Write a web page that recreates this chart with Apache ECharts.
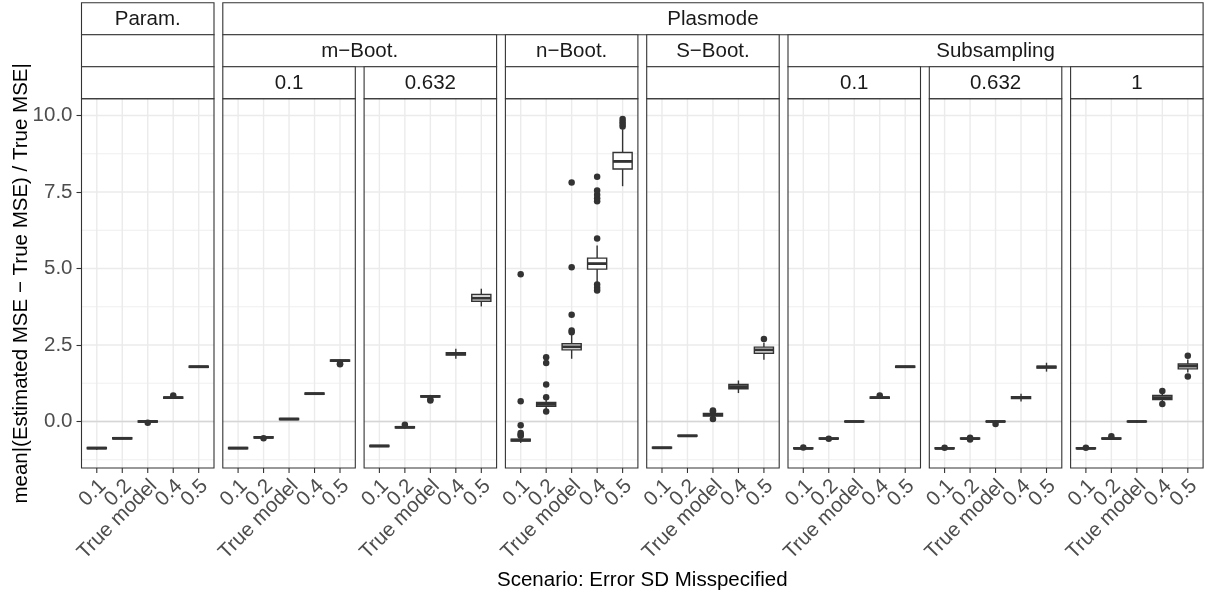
<!DOCTYPE html>
<html>
<head>
<meta charset="utf-8">
<script src="https://cdn.jsdelivr.net/npm/echarts@6/dist/echarts.min.js"></script>
<style>
    html, body { margin: 0; padding: 0; background: #fff; }
    #chart { width: 1208px; height: 599px; }
</style>
</head>
<body>
<div id="chart"></div>
<script>
// categories on the x axis of every panel
const categories = ['0.1', '0.2', 'True model', '0.4', '0.5'];
const xTicks = [1, 2, 3, 4, 5];
const yTicks = [0, 2.5, 5, 7.5, 10];
const yMinorTicks = [-1.25, 1.25, 3.75, 6.25, 8.75];

// facet strips: [first panel, last panel, label]
const stripRow1 = [[0, 0, 'Param.'], [1, 7, 'Plasmode']];
const stripRow2 = [[0, 0, ''], [1, 2, 'm−Boot.'], [3, 3, 'n−Boot.'], [4, 4, 'S−Boot.'], [5, 7, 'Subsampling']];
const stripRow3 = ['', '0.1', '0.632', '', '', '0.1', '0.632', '1'];

// box stats per panel: [min whisker, Q1, median, Q3, max whisker] for each category
const paramBox = [[-0.92, -0.89, -0.87, -0.85, -0.83], [-0.58, -0.57, -0.55, -0.53, -0.52], [-0.03, -0.02, 0.00, 0.02, 0.03], [0.74, 0.76, 0.78, 0.80, 0.82], [1.76, 1.77, 1.79, 1.81, 1.82]];
const mBoot01Box = [[-0.90, -0.89, -0.87, -0.85, -0.84], [-0.55, -0.54, -0.52, -0.50, -0.49], [0.05, 0.06, 0.08, 0.10, 0.11], [0.88, 0.89, 0.91, 0.93, 0.94], [1.95, 1.97, 1.99, 2.01, 2.03]];
const mBoot0632Box = [[-0.83, -0.82, -0.80, -0.78, -0.77], [-0.23, -0.21, -0.19, -0.17, -0.15], [0.77, 0.80, 0.82, 0.84, 0.87], [2.05, 2.17, 2.21, 2.25, 2.38], [3.76, 3.93, 4.03, 4.15, 4.34]];
const nBootBox = [[-0.70, -0.64, -0.61, -0.58, -0.52], [0.38, 0.50, 0.56, 0.62, 0.72], [2.05, 2.34, 2.44, 2.54, 2.85], [4.50, 4.98, 5.16, 5.34, 5.75], [7.69, 8.25, 8.50, 8.79, 9.55]];
const sBootBox = [[-0.88, -0.87, -0.86, -0.84, -0.83], [-0.49, -0.48, -0.47, -0.45, -0.44], [0.12, 0.18, 0.22, 0.26, 0.32], [0.93, 1.07, 1.14, 1.21, 1.34], [2.02, 2.23, 2.34, 2.43, 2.57]];
const sub01Box = [[-0.90, -0.89, -0.88, -0.86, -0.85], [-0.58, -0.57, -0.56, -0.54, -0.53], [-0.02, -0.01, 0.00, 0.01, 0.02], [0.75, 0.76, 0.78, 0.80, 0.82], [1.76, 1.77, 1.79, 1.81, 1.82]];
const sub0632Box = [[-0.90, -0.89, -0.88, -0.86, -0.85], [-0.59, -0.57, -0.56, -0.54, -0.52], [-0.04, -0.01, 0.00, 0.01, 0.03], [0.65, 0.75, 0.78, 0.81, 0.91], [1.63, 1.75, 1.78, 1.81, 1.92]];
const sub1Box = [[-0.90, -0.89, -0.88, -0.86, -0.85], [-0.58, -0.57, -0.56, -0.54, -0.53], [-0.04, -0.01, 0.00, 0.01, 0.04], [0.66, 0.72, 0.78, 0.85, 0.92], [1.60, 1.72, 1.81, 1.88, 2.03]];

// outliers per panel: [category position, value]
const paramOut = [[3, -0.04], [4, 0.85]];
const mBoot01Out = [[2, -0.55], [5, 1.89], [5, 1.87]];
const mBoot0632Out = [[2, -0.11], [3, 0.69], [3, 0.72]];
const nBootOut = [[1, -0.47], [1, -0.43], [1, -0.38], [1, -0.12], [1, 0.66], [1, 4.81],
    [2, 0.33], [2, 0.79], [2, 1.21], [2, 1.91], [2, 2.10],
    [3, 2.92], [3, 2.97], [3, 3.49], [3, 5.04], [3, 7.81],
    [4, 4.28], [4, 4.37], [4, 4.48], [4, 5.98], [4, 7.20], [4, 7.30], [4, 7.41], [4, 7.55], [4, 8.00],
    [5, 9.64], [5, 9.72], [5, 9.80], [5, 9.89]];
const sBootOut = [[3, 0.08], [3, 0.33], [3, 0.36], [5, 2.70]];
const sub01Out = [[1, -0.85], [2, -0.56], [4, 0.85]];
const sub0632Out = [[1, -0.86], [2, -0.53], [2, -0.59], [3, -0.08]];
const sub1Out = [[1, -0.86], [2, -0.48], [4, 1.00], [4, 0.57], [5, 2.15], [5, 1.47]];

const panelBoxes = [paramBox, mBoot01Box, mBoot0632Box, nBootBox, sBootBox, sub01Box, sub0632Box, sub1Box];
const panelOutliers = [paramOut, mBoot01Out, mBoot0632Out, nBootOut, sBootOut, sub01Out, sub0632Out, sub1Out];

// layout
const FONT = "'Liberation Sans', Arial, sans-serif";
const panelLeft0 = 81.5, panelStep = 141.3, panelWidth = 132.5;
const plotTop = 98.7, plotHeight = 369.3;
const stripTop = 2.7, stripH = 32;
const INK = '#333333';

function panelLeft(i) {
    return panelLeft0 + i * panelStep;
}

function renderBox(params, api) {
    const x = api.value(0);
    const lo = api.coord([x, api.value(1)]);
    const q1 = api.coord([x, api.value(2)]);
    const med = api.coord([x, api.value(3)]);
    const q3 = api.coord([x, api.value(4)]);
    const hi = api.coord([x, api.value(5)]);
    const w = api.size([0.75, 0])[0];
    const line = {stroke: INK, lineWidth: 1.4};
    return {
        type: 'group',
        children: [
            {type: 'line', shape: {x1: lo[0], y1: lo[1], x2: q1[0], y2: q1[1]}, style: line},
            {type: 'line', shape: {x1: q3[0], y1: q3[1], x2: hi[0], y2: hi[1]}, style: line},
            {type: 'rect', shape: {x: q3[0] - w / 2, y: q3[1], width: w, height: q1[1] - q3[1]},
                style: {fill: '#fff', stroke: INK, lineWidth: 1.4}},
            {type: 'line', shape: {x1: med[0] - w / 2, y1: med[1], x2: med[0] + w / 2, y2: med[1]},
                style: {stroke: INK, lineWidth: 2.8}}
        ]
    };
}

function hLineRenderer(color) {
    return function (params, api) {
        const cs = params.coordSys;
        const y = api.coord([1, api.value(1)])[1];
        return {
            type: 'line',
            shape: {x1: cs.x, y1: y, x2: cs.x + cs.width, y2: y},
            style: {stroke: color, lineWidth: api.value(2)}
        };
    };
}

function renderVLine(params, api) {
    const cs = params.coordSys;
    const x = api.coord([api.value(0), 0])[0];
    return {
        type: 'line',
        shape: {x1: x, y1: cs.y, x2: x, y2: cs.y + cs.height},
        style: {stroke: '#EBEBEB', lineWidth: 1.4}
    };
}

// x axis tick + rotated label (ggplot style: angle 45, hjust 1, vjust 1)
function renderXLabel(params, api) {
    const cs = params.coordSys;
    const x = api.coord([api.value(0), 0])[0];
    const bottom = cs.y + cs.height;
    return {
        type: 'group',
        children: [
            {type: 'line', shape: {x1: x, y1: bottom, x2: x, y2: bottom + 5},
                style: {stroke: INK, lineWidth: 1.1}},
            {type: 'text', x: x - 1.5, y: bottom + 7.5, rotation: Math.PI / 4,
                style: {
                    text: categories[api.value(0) - 1], fill: '#4D4D4D', fontSize: 20.5, fontFamily: FONT,
                    align: 'right', verticalAlign: 'top'
                }}
        ]
    };
}

let chart = echarts.init(document.getElementById('chart'));
let grids = [], xAxes = [], yAxes = [], series = [], graphics = [];

panelBoxes.forEach(function (boxes, i) {
    grids.push({
        left: panelLeft(i), top: plotTop, width: panelWidth, height: plotHeight,
        containLabel: false, outerBoundsMode: 'none'
    });
    xAxes.push({
        type: 'value', gridIndex: i, min: 0.4, max: 5.6,
        axisLine: {show: false, onZero: false},
        splitLine: {show: false},
        axisTick: {show: false},
        axisLabel: {show: false}
    });
    yAxes.push({
        type: 'value', gridIndex: i, min: -1.52, max: 10.55,
        axisLine: {show: false, onZero: false},
        splitLine: {show: false},
        axisTick: {show: i === 0, customValues: yTicks, length: 5, lineStyle: {color: INK, width: 1.1}},
        axisLabel: {
            show: i === 0, customValues: yTicks, margin: 9,
            showMinLabel: true, showMaxLabel: true,
            color: '#4D4D4D', fontSize: 20.5, fontFamily: FONT,
            formatter: function (v) { return v.toFixed(1); }
        }
    });

    // grid lines
    series.push({
        type: 'custom', xAxisIndex: i, yAxisIndex: i, z: 1, silent: true,
        renderItem: hLineRenderer('#EBEBEB'), encode: {x: 0, y: 1},
        data: yMinorTicks.map(v => [1, v, 0.8]).concat(yTicks.map(v => [1, v, 1.4]))
    });
    series.push({
        type: 'custom', xAxisIndex: i, yAxisIndex: i, z: 1, silent: true,
        renderItem: renderVLine, encode: {x: 0, y: 1},
        data: xTicks.map(v => [v, 0])
    });
    // reference line at zero
    series.push({
        type: 'custom', xAxisIndex: i, yAxisIndex: i, z: 1, silent: true,
        renderItem: hLineRenderer('#D6D6D6'), encode: {x: 0, y: 1},
        data: [[1, 0, 1.5]]
    });
    // x axis ticks and labels
    series.push({
        type: 'custom', xAxisIndex: i, yAxisIndex: i, z: 5, silent: true, clip: false,
        renderItem: renderXLabel, encode: {x: 0, y: 1},
        data: xTicks.map(v => [v, 0])
    });
    // boxes
    series.push({
        type: 'custom', xAxisIndex: i, yAxisIndex: i, z: 3, silent: true,
        renderItem: renderBox, encode: {x: 0, y: [1, 2, 3, 4, 5]},
        data: boxes.map((b, k) => [xTicks[k]].concat(b))
    });
    // outliers
    series.push({
        type: 'scatter', xAxisIndex: i, yAxisIndex: i, z: 4, silent: true,
        symbol: 'circle', symbolSize: 6.5,
        itemStyle: {color: INK, opacity: 1},
        data: panelOutliers[i]
    });

    // panel border
    graphics.push({
        type: 'rect', z: 50, silent: true,
        shape: {x: panelLeft(i), y: plotTop, width: panelWidth, height: plotHeight},
        style: {fill: 'none', stroke: INK, lineWidth: 1.1}
    });
});

// strips
function addStrip(first, last, row, label) {
    const x0 = panelLeft(first), x1 = panelLeft(last) + panelWidth;
    const y0 = stripTop + row * stripH;
    graphics.push({
        type: 'rect', z: 40, silent: true,
        shape: {x: x0, y: y0, width: x1 - x0, height: stripH},
        style: {fill: '#fff', stroke: INK, lineWidth: 1.1}
    });
    if (label) {
        graphics.push({
            type: 'text', z: 41, silent: true, x: (x0 + x1) / 2, y: y0 + stripH / 2 + 1,
            style: {
                text: label, fill: '#1A1A1A', fontSize: 20.5, fontFamily: FONT,
                align: 'center', verticalAlign: 'middle', textAlign: 'center', textVerticalAlign: 'middle'
            }
        });
    }
}
stripRow1.forEach(s => addStrip(s[0], s[1], 0, s[2]));
stripRow2.forEach(s => addStrip(s[0], s[1], 1, s[2]));
stripRow3.forEach((label, i) => addStrip(i, i, 2, label));

// axis titles
graphics.push({
    type: 'text', z: 41, silent: true, x: 21, y: plotTop + plotHeight / 2, rotation: Math.PI / 2,
    style: {
        text: 'mean|(Estimated MSE − True MSE) / True MSE|', fill: '#000', fontSize: 20.5, fontFamily: FONT,
        align: 'center', verticalAlign: 'middle', textAlign: 'center', textVerticalAlign: 'middle'
    }
});
graphics.push({
    type: 'text', z: 41, silent: true, x: panelLeft(0) + (panelLeft(7) + panelWidth - panelLeft(0)) / 2, y: 580,
    style: {
        text: 'Scenario: Error SD Misspecified', fill: '#000', fontSize: 20.5, fontFamily: FONT,
        align: 'center', verticalAlign: 'middle', textAlign: 'center', textVerticalAlign: 'middle'
    }
});

let option = {
    animation: false,
    backgroundColor: '#fff',
    textStyle: {fontFamily: FONT},
    grid: grids,
    xAxis: xAxes,
    yAxis: yAxes,
    series: series,
    graphic: graphics
};
chart.setOption(option);
</script>
</body>
</html>
